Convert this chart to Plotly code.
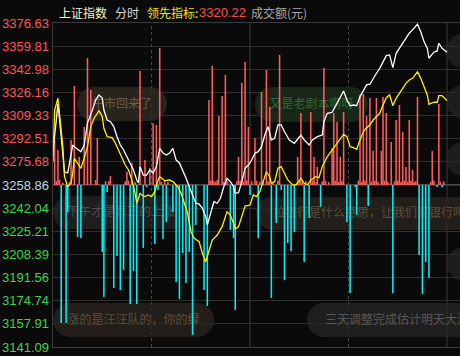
import plotly.graph_objects as go

# ---------------- data ----------------
BASE = 3258.86
Y_TICKS = [3376.63, 3359.81, 3342.98, 3326.16, 3309.33, 3292.51, 3275.68, 3258.86,
           3242.04, 3225.21, 3208.39, 3191.56, 3174.74, 3157.91, 3141.09]
Y_LABELS = ["3376.63", "3359.81", "3342.98", "3326.16", "3309.33", "3292.51", "3275.68", "3258.86",
            "3242.04", "3225.21", "3208.39", "3191.56", "3174.74", "3157.91", "3141.09"]

# minute index (0 = 09:30, 120 = 11:30/13:00, 240 = 15:00), price
WHITE = [(0, 3283.1), (3, 3317.8), (5, 3294.0), (7, 3268.5), (9, 3267.6), (10, 3274.9), (12, 3287.9),
         (14, 3285.8), (17, 3283.1), (19, 3287.9), (21, 3303.9), (24, 3313.4), (26, 3320.7), (28, 3324.3),
         (30, 3322.1), (31, 3313.4), (33, 3306.1), (35, 3304.9), (37, 3301.3), (39, 3294.0), (41, 3287.9),
         (43, 3284.3), (45, 3279.4), (47, 3274.9), (49, 3269.8), (51, 3262.5), (52, 3260.3), (53, 3272.2),
         (55, 3266.1), (57, 3266.1), (59, 3269.8), (61, 3267.6), (63, 3272.2), (65, 3285.5), (67, 3282.1),
         (69, 3280.7), (71, 3282.1), (73, 3285.5), (75, 3277.0), (77, 3274.9), (79, 3269.8), (81, 3263.9),
         (83, 3257.6), (85, 3251.6), (87, 3245.6), (89, 3245.0), (91, 3241.9), (93, 3235.8), (94, 3229.8),
         (96, 3238.3), (98, 3246.7), (100, 3245.6), (102, 3249.2), (104, 3257.6), (106, 3263.7), (108, 3261.3),
         (110, 3257.6), (111, 3252.8), (113, 3253.3), (115, 3261.3), (117, 3271.0), (119, 3273.4), (121, 3277.0),
         (123, 3281.9), (125, 3283.1), (127, 3286.7), (129, 3295.2), (131, 3301.3), (133, 3291.6), (135, 3292.8),
         (137, 3302.5), (139, 3302.5), (141, 3297.6), (144, 3291.6), (147, 3289.2), (151, 3295.2), (153, 3291.6),
         (156, 3287.9), (158, 3291.6), (161, 3294.0), (164, 3295.2), (165, 3304.9), (167, 3311.0), (170, 3311.7),
         (173, 3318.3), (175, 3321.9), (177, 3327.2), (179, 3320.7), (181, 3316.5), (183, 3317.0), (185, 3316.5),
         (187, 3323.1), (189, 3327.2), (191, 3331.6), (193, 3332.1), (195, 3336.4), (197, 3340.1), (199, 3343.7),
         (201, 3348.5), (203, 3352.9), (205, 3353.4), (207, 3344.2), (209, 3354.6), (211, 3358.2), (213, 3361.2),
         (215, 3365.5), (217, 3369.2), (219, 3371.6), (222, 3375.7), (224, 3370.3), (226, 3363.1), (228, 3358.2),
         (229, 3351.0), (232, 3355.4), (234, 3356.3), (235, 3361.9), (237, 3358.2), (240, 3355.4)]

YELLOW = [(0, 3275.8), (1, 3313.4), (3, 3321.9), (4, 3311.0), (6, 3286.7), (7, 3264.9), (9, 3257.6),
          (11, 3260.3), (12, 3267.4), (13, 3278.3), (15, 3274.7), (17, 3271.0), (19, 3278.3), (21, 3286.7),
          (23, 3301.3), (25, 3307.4), (27, 3311.0), (28, 3312.9), (30, 3308.5), (31, 3300.1), (33, 3294.0),
          (36, 3293.3), (38, 3289.2), (40, 3284.3), (42, 3279.4), (44, 3273.4), (46, 3269.8), (48, 3262.5),
          (50, 3252.8), (51, 3245.6), (53, 3252.8), (54, 3251.6), (56, 3250.4), (58, 3251.6), (60, 3250.4),
          (62, 3254.0), (64, 3262.5), (65, 3264.9), (68, 3262.0), (71, 3262.5), (73, 3261.3), (76, 3257.6),
          (78, 3252.8), (80, 3245.8), (82, 3238.3), (84, 3224.9), (86, 3220.1), (89, 3217.6), (91, 3209.2),
          (93, 3203.1), (95, 3211.6), (97, 3218.9), (100, 3222.5), (103, 3228.6), (106, 3239.5), (108, 3237.0),
          (110, 3231.1), (111, 3226.7), (113, 3228.6), (115, 3235.8), (117, 3243.6), (120, 3244.3), (122, 3251.6),
          (124, 3250.4), (126, 3254.0), (128, 3261.3), (130, 3268.5), (132, 3264.9), (133, 3260.1), (135, 3261.3),
          (137, 3271.0), (139, 3272.2), (141, 3267.4), (143, 3262.5), (146, 3258.9), (148, 3258.9), (151, 3263.7),
          (153, 3260.1), (155, 3258.9), (157, 3262.5), (160, 3264.9), (162, 3264.2), (164, 3272.2), (167, 3279.4),
          (170, 3284.3), (173, 3289.2), (175, 3292.5), (177, 3295.7), (179, 3294.0), (181, 3286.7), (183, 3286.0),
          (185, 3284.8), (187, 3291.6), (189, 3297.6), (191, 3300.5), (193, 3302.5), (195, 3306.1), (197, 3308.5),
          (199, 3311.0), (201, 3317.0), (203, 3322.3), (205, 3324.3), (207, 3316.5), (209, 3321.9), (211, 3325.5),
          (213, 3328.7), (215, 3332.8), (217, 3335.2), (219, 3336.4), (222, 3341.2), (224, 3336.4), (226, 3330.3),
          (228, 3324.3), (229, 3317.5), (232, 3319.0), (234, 3319.0), (235, 3323.8), (237, 3323.8), (240, 3320.22)]

RED_BARS = [(1, 3291.6), (2, 3261.5), (3, 3284.3), (4, 3262.5), (6, 3260.5), (10, 3261.0), (11, 3291.6),
            (13, 3330.8), (16, 3279.2), (19, 3301.0), (21, 3351.2), (23, 3327.9), (26, 3262.5), (27, 3293.0),
            (32, 3261.5), (34, 3262.0), (35, 3265.4), (44, 3261.5), (45, 3268.3), (46, 3262.0), (48, 3274.9),
            (50, 3261.0), (53, 3341.7), (56, 3277.0), (59, 3271.2), (61, 3303.9), (63, 3302.5), (65, 3358.5),
            (66, 3261.0), (68, 3262.0), (70, 3261.0), (95, 3320.7), (96, 3262.0), (97, 3345.4), (98, 3261.5),
            (99, 3261.0), (100, 3262.5), (101, 3309.0), (103, 3323.6), (104, 3261.0), (105, 3338.8), (106, 3262.0),
            (112, 3261.5), (113, 3279.2), (114, 3262.0), (115, 3333.0), (116, 3261.0), (117, 3348.3), (118, 3262.0),
            (119, 3301.0), (121, 3261.5), (123, 3293.0), (124, 3262.0), (126, 3261.0), (127, 3326.5), (128, 3262.0),
            (130, 3342.5), (131, 3261.5), (132, 3315.6), (134, 3261.0), (137, 3262.0), (138, 3353.4), (149, 3279.2),
            (150, 3262.0), (151, 3311.2), (152, 3261.0), (154, 3261.5), (157, 3311.9), (158, 3262.0), (159, 3279.2),
            (160, 3261.0), (161, 3272.0), (164, 3261.5), (165, 3343.9), (166, 3262.0), (168, 3261.0), (170, 3285.8),
            (171, 3311.2), (172, 3262.0), (173, 3304.7), (174, 3261.0), (175, 3279.2), (176, 3261.5), (177, 3311.9),
            (186, 3262.0), (187, 3324.3), (188, 3261.0), (189, 3325.0), (190, 3262.0), (191, 3309.0), (193, 3322.1),
            (194, 3261.0), (195, 3283.6), (196, 3262.0), (197, 3322.1), (198, 3261.0), (200, 3283.6), (201, 3322.8),
            (202, 3262.0), (203, 3311.2), (204, 3261.0), (206, 3290.1), (208, 3261.5), (209, 3306.1), (210, 3262.0),
            (211, 3317.0), (212, 3261.0), (213, 3297.4), (214, 3262.0), (215, 3272.0), (216, 3261.0), (217, 3306.1),
            (218, 3262.0), (219, 3269.8), (220, 3261.0), (221, 3261.5), (222, 3322.8), (230, 3261.0), (231, 3283.6),
            (232, 3262.0), (235, 3317.8), (236, 3261.0), (238, 3261.5)]

CYAN_BARS = [(5, 3158.5), (8, 3158.5), (9, 3239.2), (15, 3221.1), (17, 3220.3), (30, 3210.2), (31, 3177.4),
             (33, 3253.8), (37, 3184.0), (39, 3207.2), (41, 3182.5), (43, 3197.1), (47, 3172.4), (49, 3196.3),
             (51, 3172.4), (55, 3213.1), (57, 3257.4), (62, 3216.0), (64, 3255.2), (67, 3219.6), (69, 3232.0),
             (73, 3239.2), (75, 3188.3), (77, 3176.0), (79, 3209.4), (81, 3187.6), (83, 3210.2), (85, 3149.8),
             (87, 3229.8), (92, 3182.5), (94, 3170.9), (108, 3226.1), (110, 3220.3), (111, 3168.0), (120, 3251.6),
             (125, 3220.3), (133, 3176.7), (136, 3231.2), (139, 3255.2), (141, 3189.8), (143, 3216.7), (145, 3210.9),
             (147, 3224.7), (153, 3202.9), (156, 3234.9), (163, 3242.9), (179, 3232.0), (181, 3180.3), (184, 3257.4),
             (185, 3237.0), (192, 3243.6), (207, 3180.3), (223, 3208.0), (225, 3179.6), (227, 3202.9), (229, 3191.2),
             (234, 3257.4), (237, 3257.2)]

# ---------------- layout geometry ----------------
W, H = 460, 356
ML, MR, MT, MB = 53, 0, 23, 9
X_RANGE = [0, 247.9]
Y_RANGE = [Y_TICKS[-1], Y_TICKS[0]]
PW, PH = W - ML - MR, H - MT - MB

CJK = "Noto Sans CJK SC"
NUM = "Liberation Sans, Arial, sans-serif"


def px2x(px):
    return X_RANGE[0] + (px - ML) / PW * (X_RANGE[1] - X_RANGE[0])


def py2y(py):
    return Y_RANGE[1] - (py - MT) / PH * (Y_RANGE[1] - Y_RANGE[0])


def pill_path(x0, x1, y0, y1):
    r = (y1 - y0) / 2.0
    k = 0.5523 * r
    ym = (y0 + y1) / 2.0

    def P(a, b):
        return f"{px2x(a):.4f},{py2y(b):.4f}"

    return (f"M{P(x0 + r, y0)} L{P(x1 - r, y0)} "
            f"C{P(x1 - r + k, y0)} {P(x1, ym - k)} {P(x1, ym)} "
            f"C{P(x1, ym + k)} {P(x1 - r + k, y1)} {P(x1 - r, y1)} "
            f"L{P(x0 + r, y1)} "
            f"C{P(x0 + r - k, y1)} {P(x0, ym + k)} {P(x0, ym)} "
            f"C{P(x0, ym - k)} {P(x0 + r - k, y0)} {P(x0 + r, y0)} Z")


fig = go.Figure()

rm, rv = zip(*RED_BARS)
cm, cv = zip(*CYAN_BARS)
fig.add_trace(go.Bar(x=list(rm), y=[v - BASE for v in rv], base=BASE, width=0.95,
                     marker=dict(color="#ff5c5c", line=dict(width=0)), hoverinfo="skip"))
fig.add_trace(go.Bar(x=list(cm), y=[v - BASE for v in cv], base=BASE, width=0.95,
                     marker=dict(color="#08eef6", line=dict(width=0)), hoverinfo="skip"))

wm, wv = zip(*WHITE)
ym_, yv = zip(*YELLOW)
fig.add_trace(go.Scatter(x=list(wm), y=list(wv), mode="lines",
                         line=dict(color="#ffffff", width=1.3), hoverinfo="skip"))
fig.add_trace(go.Scatter(x=list(ym_), y=list(yv), mode="lines",
                         line=dict(color="#ffee00", width=1.3), hoverinfo="skip"))

shapes = []
# vertical separators
for m, dash, col in [(60, "dot", "#4a4a4a"), (120, "solid", "#3a3a3a"), (180, "dot", "#4a4a4a"), (240, "solid", "#3a3a3a")]:
    shapes.append(dict(type="line", xref="x", yref="paper", x0=m, x1=m, y0=0, y1=1,
                       line=dict(color=col, width=1, dash=dash), layer="between"))
# baseline
shapes.append(dict(type="line", xref="paper", yref="y", x0=0, x1=1, y0=BASE, y1=BASE,
                   line=dict(color="#4c4c4c", width=2), layer="between"))

# comment bubbles (danmaku)
BUBBLES = [
    dict(box=(77, 167, 87, 121), fill="rgba(48,42,34,0.8)", text="牛市回来了", color="#6c5e4a", pos="middle center", pad=0),
    dict(box=(255, 368, 87, 122), fill="rgba(26,44,26,0.85)", text="又是老剧本啊呀", color="#2f6a34", pos="middle center", pad=0),
    dict(box=(53, 189, 196, 229), fill="rgba(38,38,38,0.75)", text="下午才是真正的上涨", color="#4e4e4e", pos="middle center", pad=0),
    dict(box=(256, 540, 197, 230), fill="rgba(44,38,31,0.75)", text="拉银行是什么意思，让我们买银行吗", color="#5e4e3c", pos="middle left", pad=14),
    dict(box=(53, 214, 303, 337), fill="rgba(44,38,31,0.75)", text="涨的是汪汪队的，你的绿", color="#5e4e3c", pos="middle center", pad=0),
    dict(box=(307, 520, 303, 337), fill="rgba(40,40,40,0.72)", text="三天调整完成估计明天大涨", color="#585858", pos="middle left", pad=15),
    dict(box=(446, 520, 34, 68), fill="rgba(40,40,40,0.65)", text="", color="#585858", pos="middle left", pad=0),
    dict(box=(446, 520, 85, 118), fill="rgba(40,40,40,0.65)", text="", color="#585858", pos="middle left", pad=0),
    dict(box=(446, 520, 142, 176), fill="rgba(40,40,40,0.65)", text="", color="#585858", pos="middle left", pad=0),
    dict(box=(447, 520, 247, 281), fill="rgba(40,40,40,0.65)", text="", color="#585858", pos="middle left", pad=0),
]
for b in BUBBLES:
    x0, x1, y0, y1 = b["box"]
    shapes.append(dict(type="path", xref="x", yref="y", path=pill_path(x0, x1, y0, y1),
                       fillcolor=b["fill"], line=dict(width=0), layer="between"))
    if b["text"]:
        shapes.append(dict(type="rect", xref="x", yref="y", x0=px2x(x0), x1=px2x(x1),
                           y0=py2y(y1), y1=py2y(y0), fillcolor="rgba(0,0,0,0)", line=dict(width=0),
                           layer="between",
                           label=dict(text=b["text"], textposition=b["pos"], padding=b["pad"],
                                      font=dict(family=CJK, size=12, color=b["color"]))))

annotations = []
# y labels with per-level colors
for v, lab in zip(Y_TICKS, Y_LABELS):
    if v > BASE + 0.01:
        col = "#ff5555"
    elif v < BASE - 0.01:
        col = "#3bd64a"
    else:
        col = "#c4d2e0"
    annotations.append(dict(x=0, xref="paper", y=v, yref="y", text=lab, showarrow=False,
                            xanchor="right", yanchor="middle", xshift=-2,
                            font=dict(family=NUM, size=13, color=col)))

# header
HY = (H - MB - 12) / PH


def hx(px):
    return (px - ML) / PW


annotations += [
    dict(x=hx(57), y=HY, xref="paper", yref="paper", text="上证指数", showarrow=False, xanchor="left",
         yanchor="middle", font=dict(family=CJK, size=12, color="#f4efc8")),
    dict(x=hx(113), y=HY, xref="paper", yref="paper", text="分时", showarrow=False, xanchor="left",
         yanchor="middle", font=dict(family=CJK, size=12, color="#d6d6d6")),
    dict(x=hx(145), y=HY, xref="paper", yref="paper", text="领先指标:", showarrow=False, xanchor="left",
         yanchor="middle", font=dict(family=CJK, size=12, color="#f2e400")),
    dict(x=hx(197), y=HY, xref="paper", yref="paper", text=f"{YELLOW[-1][1]:.2f}", showarrow=False,
         xanchor="left", yanchor="middle", font=dict(family=NUM, size=13, color="#ff4d4d")),
    dict(x=hx(249), y=HY, xref="paper", yref="paper", text="成交额(元)", showarrow=False, xanchor="left",
         yanchor="middle", font=dict(family=CJK, size=12, color="#a6a6a6")),
]

fig.update_layout(
    width=W, height=H,
    margin=dict(l=ML, r=MR, t=MT, b=MB, pad=0),
    paper_bgcolor="#0a0a0a", plot_bgcolor="#0a0a0a",
    showlegend=False, hovermode=False, barmode="overlay",
    shapes=shapes, annotations=annotations,
    xaxis=dict(range=X_RANGE, showgrid=False, zeroline=False, showticklabels=False, ticks="",
               showline=True, mirror=True, linecolor="#3a3a3a", linewidth=1, fixedrange=True),
    yaxis=dict(range=Y_RANGE, tickvals=Y_TICKS, showgrid=True, gridcolor="#2e2e2e", gridwidth=1,
               zeroline=False, showticklabels=False, ticks="", showline=True, linecolor="#3a3a3a",
               linewidth=1, fixedrange=True),
)

fig.write_html("out.html", config={"displayModeBar": False, "staticPlot": True})
